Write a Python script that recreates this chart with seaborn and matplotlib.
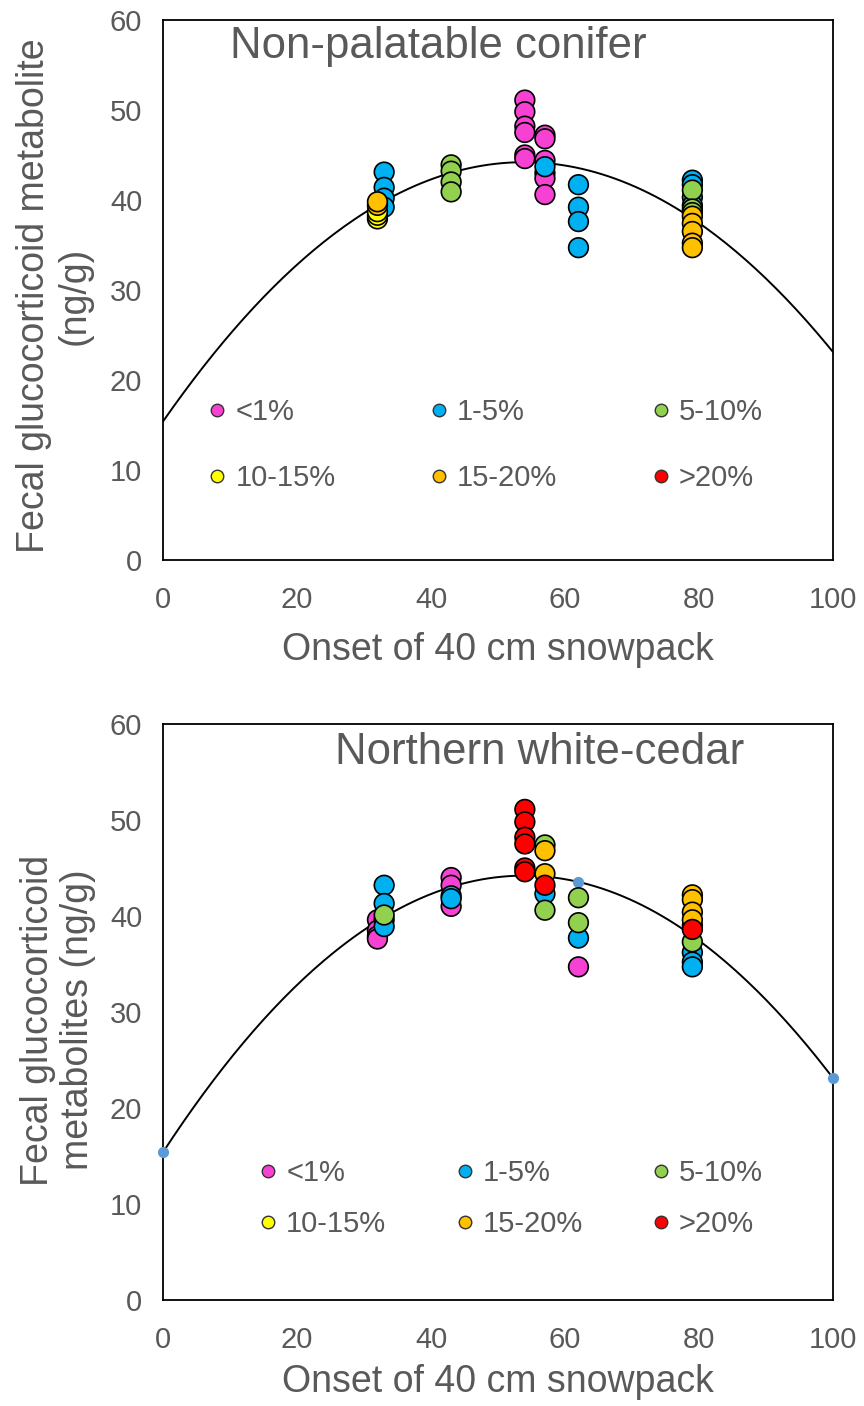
import numpy as np
import pandas as pd
import matplotlib
matplotlib.use("Agg")
import matplotlib.pyplot as plt
from matplotlib.lines import Line2D
import seaborn as sns

sns.set_theme(style="white")
plt.rcParams["font.family"] = ["Liberation Sans", "DejaVu Sans"]

# Browse-availability classes and their colours
classes = ["<1%", "1-5%", "5-10%", "10-15%", "15-20%", ">20%"]
class_colors = ["#F542D2", "#00B0F0", "#92D050", "#FFFF00", "#FFC000", "#FF0000"]

# Quadratic trend of metabolite level vs. snowpack onset (highest power first)
trend_coef = [-0.00992, 1.069, 15.4]
trend_marks_x = [0, 62, 100]

# Non-palatable conifer: onset day, metabolite level, class
top_x = {
    "<1%":    [54, 54, 54, 54, 54, 54, 57, 57, 57, 57, 57, 57],
    "1-5%":   [33, 33, 33, 33, 57, 62, 62, 62, 62, 79, 79, 79, 79],
    "5-10%":  [43, 43, 43, 43, 79, 79, 79],
    "10-15%": [32, 32, 32],
    "15-20%": [32, 32, 79, 79, 79, 79, 79],
    ">20%":   [],
}
top_y = {
    "<1%":    [51.1, 49.8, 48.2, 47.5, 45.0, 44.6, 47.2, 46.8, 44.4, 43.0, 42.4, 40.6],
    "1-5%":   [43.1, 41.4, 40.2, 39.2, 43.7, 41.7, 39.2, 37.6, 34.7, 42.2, 41.7, 40.3, 39.4],
    "5-10%":  [43.9, 43.2, 42.0, 40.9, 41.1, 39.0, 38.6],
    "10-15%": [37.9, 38.3, 38.7],
    "15-20%": [39.4, 39.8, 38.2, 37.4, 36.5, 35.2, 34.7],
    ">20%":   [],
}

# Northern white-cedar
bot_x = {
    "<1%":    [32, 32, 32, 32, 43, 43, 43, 62],
    "1-5%":   [33, 33, 33, 33, 43, 43, 57, 62, 79, 79, 79],
    "5-10%":  [33, 57, 57, 62, 62, 79, 79],
    "10-15%": [],
    "15-20%": [57, 57, 79, 79, 79, 79],
    ">20%":   [54, 54, 54, 54, 54, 54, 57, 79],
}
bot_y = {
    "<1%":    [39.6, 38.5, 37.9, 37.6, 44.0, 43.2, 41.0, 34.7],
    "1-5%":   [43.2, 41.3, 39.6, 38.9, 42.1, 41.8, 42.3, 37.7, 36.2, 35.2, 34.7],
    "5-10%":  [40.1, 47.4, 40.6, 41.9, 39.3, 37.3, 39.0],
    "10-15%": [],
    "15-20%": [46.8, 44.4, 42.2, 41.7, 40.4, 39.6],
    ">20%":   [51.1, 49.8, 48.2, 47.5, 45.0, 44.6, 43.2, 38.6],
}

x_ticks = [0, 20, 40, 60, 80, 100]
y_ticks = [0, 10, 20, 30, 40, 50, 60]

GRAY = "#595959"
palette = dict(zip(classes, class_colors))


def to_frame(xs, ys):
    parts = [pd.DataFrame({"onset": xs[c], "fgm": ys[c], "cls": c}) for c in classes]
    return pd.concat(parts, ignore_index=True)


def panel(ax, df, title, title_x, ylabel, leg_anchor, colsp, rowsp, marks):
    grid = np.linspace(0, 100, 201)
    sns.lineplot(x=grid, y=np.polyval(trend_coef, grid), color="black",
                 linewidth=1.4, ax=ax, zorder=2)
    if marks:
        mx = np.array(trend_marks_x, dtype=float)
        sns.scatterplot(x=mx, y=np.polyval(trend_coef, mx), color="#5B9BD5",
                        s=65, linewidth=0, ax=ax, zorder=3, clip_on=False)
    sns.scatterplot(data=df, x="onset", y="fgm", hue="cls", hue_order=classes,
                    palette=palette, s=200, edgecolor="black", linewidth=1.2,
                    legend=False, ax=ax, zorder=4)
    ax.set_xlim(0, 100)
    ax.set_ylim(0, 60)
    ax.set_xticks(x_ticks)
    ax.set_yticks(y_ticks)
    ax.tick_params(axis="both", length=0, labelsize=21, colors=GRAY)
    ax.tick_params(axis="x", pad=19)
    ax.tick_params(axis="y", pad=15)
    for s in ax.spines.values():
        s.set_color("black")
        s.set_linewidth(1.3)
        s.set_visible(True)
    ax.set_xlabel("Onset of 40 cm snowpack", fontsize=27, color=GRAY)
    ax.set_ylabel(ylabel, fontsize=27, color=GRAY, linespacing=1.15)
    ax.text(title_x, 0.95, title, transform=ax.transAxes, fontsize=31.5,
            color=GRAY, ha="left", va="center")
    # legend laid out row by row: 3 columns x 2 rows
    order = [0, 3, 1, 4, 2, 5]
    handles = [Line2D([], [], linestyle="none", marker="o", markersize=9,
                      markerfacecolor=class_colors[i], markeredgecolor="#333333",
                      markeredgewidth=1.0) for i in order]
    labels = [classes[i] for i in order]
    ax.legend(handles, labels, ncol=3, loc="upper left",
              bbox_to_anchor=leg_anchor, frameon=False, fontsize=21,
              labelcolor=GRAY, handlelength=0.5, handletextpad=0.37,
              columnspacing=colsp, labelspacing=rowsp, borderpad=0,
              borderaxespad=0)


fig = plt.figure(figsize=(8.64, 14.06), dpi=100)
ax1 = fig.add_axes([0.1887, 0.6017, 0.7755, 0.3841])
ax2 = fig.add_axes([0.1887, 0.0754, 0.7755, 0.4097])

panel(ax1, to_frame(top_x, top_y), "Non-palatable conifer", 0.10,
      "Fecal glucocorticoid metabolite\n(ng/g)", (0.070, 0.300), 3.3, 1.3, False)
panel(ax2, to_frame(bot_x, bot_y), "Northern white-cedar", 0.257,
      "Fecal glucocorticoid\nmetabolites (ng/g)", (0.146, 0.245), 2.43, 0.8, True)

ax1.yaxis.set_label_coords(-0.105, 0.49)
ax2.yaxis.set_label_coords(-0.100, 0.486)
ax1.xaxis.set_label_coords(0.5, -0.133)
ax2.xaxis.set_label_coords(0.5, -0.111)

fig.savefig("out.png", dpi=100)
